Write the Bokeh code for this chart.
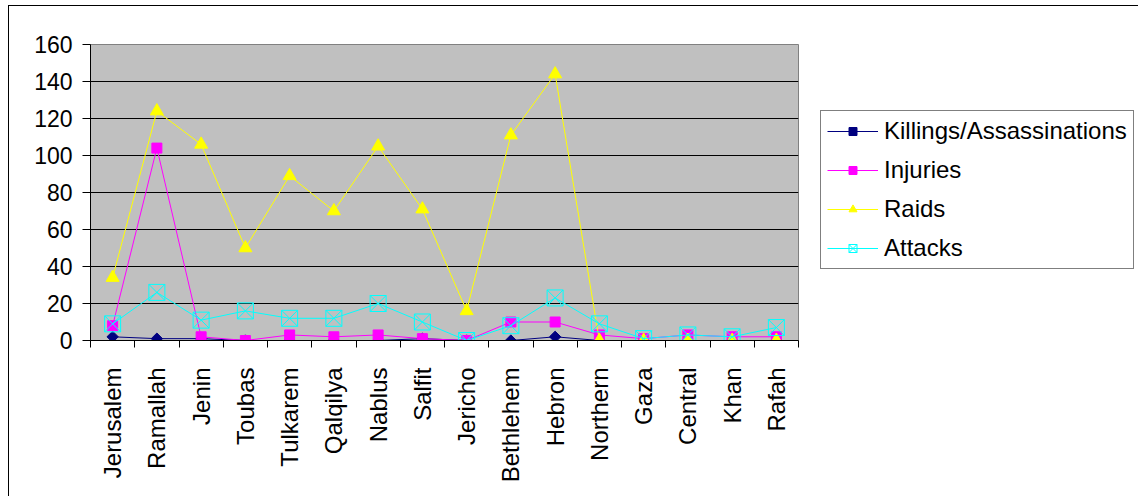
import math
from bokeh.plotting import figure
from bokeh.layouts import row
from bokeh.models import Range1d, FixedTicker, Legend, LegendItem
from bokeh.embed import file_html
from bokeh.resources import INLINE

categories = ["Jerusalem", "Ramallah", "Jenin", "Toubas", "Tulkarem", "Qalqilya",
              "Nablus", "Salfit", "Jericho", "Bethlehem", "Hebron", "Northern",
              "Gaza", "Central", "Khan", "Rafah"]
killings = [2, 1, 1, 0, 0, 0, 0, 1, 0, 0, 2, 0, 0, 0, 0, 0]
injuries = [8, 104, 2, 0, 3, 2, 3, 1, 0, 10, 10, 3, 1, 3, 2, 2]
raids = [34, 124, 106, 50, 89, 70, 105, 71, 16, 111, 144, 0, 0, 0, 0, 0]
attacks = [9, 26, 11, 16, 12, 12, 20, 10, 0, 8, 23, 9, 1, 3, 2, 7]
y_ticks = [0, 20, 40, 60, 80, 100, 120, 140, 160]
series_names = ["Killings/Assassinations", "Injuries", "Raids", "Attacks"]

n = len(categories)
xs = [i + 0.5 for i in range(n)]
FONT = "Liberation Sans"
FS = "23px"

styles = [
    dict(color="#000080", marker="square", angle=math.pi / 4, size=8, fill=True),
    dict(color="#FF00FF", marker="square", angle=0.0, size=10, fill=True),
    dict(color="#FFFF00", marker="triangle", angle=0.0, size=13, fill=True),
    dict(color="#00FFFF", marker="square_x", angle=0.0, size=16, fill=False),
]
series = [killings, injuries, raids, attacks]

p = figure(frame_width=708, frame_height=296, output_backend="svg",
           toolbar_location=None,
           x_range=Range1d(0, n), y_range=Range1d(0, 160),
           min_border_left=90, min_border_right=1, min_border_top=44,
           min_border_bottom=156)
p.background_fill_color = "#C0C0C0"
p.border_fill_color = None
p.outline_line_color = "#808080"
p.styles = {"box-shadow": "inset 8px 5px 0 0 #FFFFFF, inset 9px 6px 0 0 #000000"}

p.xgrid.visible = False
p.ygrid.ticker = FixedTicker(ticks=y_ticks)
p.ygrid.grid_line_color = "#000000"
p.ygrid.grid_line_width = 1

p.yaxis.ticker = FixedTicker(ticks=y_ticks)
p.yaxis.major_tick_in = 0
p.yaxis.major_tick_out = 8
p.yaxis.minor_tick_line_color = None
p.yaxis.axis_line_color = "#000000"
p.yaxis.major_label_text_font = FONT
p.yaxis.major_label_text_font_size = FS
p.yaxis.major_label_text_color = "#000000"
p.yaxis.major_label_standoff = 10

p.xaxis.ticker = FixedTicker(ticks=xs, minor_ticks=list(range(n + 1)))
p.xaxis.major_label_overrides = {x: c for x, c in zip(xs, categories)}
p.xaxis.major_tick_in = 0
p.xaxis.major_tick_out = 0
p.xaxis.minor_tick_in = 0
p.xaxis.minor_tick_out = 7
p.xaxis.minor_tick_line_color = "#000000"
p.xaxis.axis_line_color = "#000000"
p.xaxis.major_label_orientation = math.pi / 2
p.xaxis.major_label_text_font = FONT
p.xaxis.major_label_text_font_size = "24px"
p.xaxis.major_label_text_color = "#000000"
p.xaxis.major_label_standoff = 20

for vals, st in zip(series, styles):
    p.line(xs, vals, line_color=st["color"], line_width=1)
    p.scatter(xs, vals, marker=st["marker"], angle=st["angle"], size=st["size"],
              fill_color=st["color"] if st["fill"] else None,
              line_color=st["color"], line_width=1)

# legend panel (second figure with the same borders; its glyphs hold only NaN)
q = figure(frame_width=339, frame_height=296, output_backend="svg",
           toolbar_location=None,
           x_range=Range1d(0, 1), y_range=Range1d(0, 1),
           min_border_left=0, min_border_right=0, min_border_top=44,
           min_border_bottom=156)
q.axis.visible = False
q.grid.visible = False
q.outline_line_color = None
q.background_fill_color = None
q.border_fill_color = None
q.styles = {"box-shadow": "inset 0 5px 0 0 #FFFFFF, inset 0 6px 0 0 #000000"}

nan = float("nan")
items = []
for name, st in zip(series_names, styles):
    lr = q.line([nan], [nan], line_color=st["color"], line_width=1)
    sr = q.scatter([nan], [nan], marker=st["marker"], angle=st["angle"],
                   size=st["size"],
                   fill_color=st["color"] if st["fill"] else None,
                   line_color=st["color"], line_width=1)
    items.append(LegendItem(label=name, renderers=[lr, sr]))

legend = Legend(items=items, location=(21, 71), orientation="vertical")
legend.margin = 0
legend.padding = 6
legend.spacing = 11
legend.glyph_width = 51
legend.glyph_height = 20
legend.label_height = 20
legend.label_standoff = 6
legend.label_text_font = FONT
legend.label_text_font_size = "24px"
legend.label_text_color = "#000000"
legend.border_line_color = "#000000"
legend.border_line_width = 1
legend.background_fill_color = "#FFFFFF"
legend.background_fill_alpha = 1.0
q.add_layout(legend, "center")

layout = row(p, q, spacing=0)
open("out.html", "w").write(file_html(layout, INLINE))
